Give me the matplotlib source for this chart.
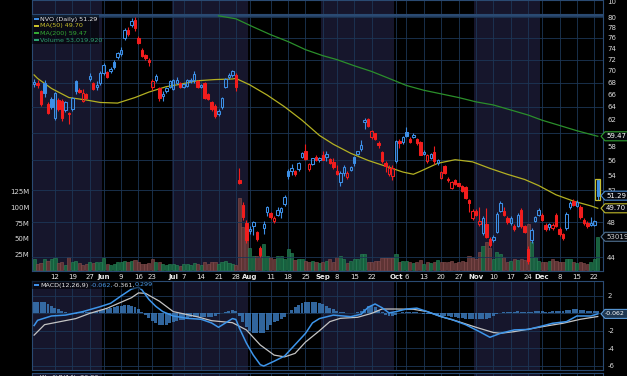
import numpy as np
import pandas as pd
import matplotlib
matplotlib.use('Agg')
import matplotlib.pyplot as plt
from matplotlib.ticker import FixedLocator, NullLocator, FuncFormatter
from matplotlib.patches import Polygon, Rectangle

# trading days shown on the chart (US market holidays left out)
holidays = ['2025-05-26', '2025-06-19', '2025-07-04', '2025-09-01', '2025-11-27']
days = pd.bdate_range('2025-05-02', '2025-12-23', freq='C', holidays=holidays)

opens = [67.7, 67.9, 66.5, 68.0, 64.4, 65.3, 62.2, 65.1, 64.9, 63.5, 63.0, 63.7, 68.2, 66.7, 64.9, 66.0, 68.6, 67.9, 67.2, 68.0,
         69.6, 69.8, 69.9, 71.6, 72.4, 73.0, 76.0, 77.5, 78.5, 79.5, 76.0, 73.8, 72.9, 71.9, 67.2, 68.4, 67.0, 65.8, 66.6, 67.3,
         66.9, 67.9, 67.9, 67.3, 67.4, 68.3, 68.4, 68.3, 67.3, 67.9, 66.1, 64.8, 64.2, 62.9, 63.9, 67.2, 68.9, 69.3, 69.3, 53.3, 50.1, 47.9,
         47.0, 47.6, 46.8, 45.0, 47.3, 49.3, 49.1, 48.1, 48.9, 49.2, 50.2, 54.6, 54.5, 54.5, 54.8, 56.5, 57.4, 54.8, 55.5, 56.5, 56.0,
         56.7, 56.5, 56.2, 55.8, 54.5, 53.1, 54.3, 53.7, 54.7, 56.5, 56.9, 57.6, 61.6, 62.1, 59.3, 59.9, 58.5, 57.2, 55.6, 54.2, 53.9,
         55.9, 58.8, 58.6, 60.1, 59.1, 59.4, 59.0, 58.6, 56.9, 55.9, 56.4, 57.2, 55.6, 53.6, 55.2, 53.5, 52.3, 53.3, 52.9, 52.5, 52.4, 50.7, 48.5,
         49.4, 47.8, 46.7, 47.8, 46.0, 45.9, 46.9, 49.4, 49.4, 48.5, 47.9, 47.6, 47.6, 49.5, 47.5, 44.9, 45.9, 48.2, 48.9,
         48.9, 47.7, 47.4, 47.3, 48.9, 47.2, 46.6, 47.3, 49.8, 50.6, 50.0, 49.8, 48.3, 47.9, 47.7, 47.7, 53.3]
highs = [68.6, 68.4, 66.8, 68.4, 64.7, 65.6, 66.4, 65.4, 65.2, 65.0, 63.2, 65.6, 68.5, 67.0, 66.9, 66.2, 69.6, 68.1, 68.2, 69.9,
         71.4, 70.0, 70.6, 71.9, 73.3, 74.2, 77.8, 78.0, 79.8, 80.0, 76.4, 74.1, 73.0, 72.3, 68.6, 69.5, 67.3, 66.5, 67.3, 68.4,
         68.6, 68.9, 68.1, 68.0, 68.6, 68.8, 70.0, 68.5, 67.8, 68.1, 66.3, 65.0, 64.4, 63.6, 65.6, 68.8, 69.6, 70.1, 69.6, 55.0, 50.5, 48.3,
         47.5, 48.2, 47.0, 45.2, 48.2, 50.0, 49.3, 48.7, 49.8, 49.9, 51.4, 54.8, 55.5, 54.7, 55.8, 57.2, 58.3, 55.6, 56.4, 56.7, 56.5,
         57.3, 57.3, 56.4, 56.3, 55.3, 54.6, 55.3, 54.5, 55.2, 56.6, 57.4, 58.9, 62.2, 62.2, 60.4, 60.0, 58.8, 57.3, 55.9, 55.3, 55.4,
         58.9, 59.0, 59.5, 60.9, 59.3, 59.9, 59.2, 58.8, 57.5, 56.9, 57.0, 58.0, 56.2, 54.5, 55.4, 53.7, 53.2, 53.4, 53.0, 52.7, 52.5, 50.9, 49.6,
         49.6, 49.9, 48.7, 49.7, 46.3, 46.5, 49.2, 50.6, 49.8, 48.7, 48.7, 47.8, 49.1, 49.7, 47.7, 45.2, 47.3, 48.8, 49.7,
         49.1, 47.9, 47.9, 47.9, 49.1, 47.4, 46.7, 49.2, 50.6, 50.9, 50.7, 50.1, 48.5, 48.1, 48.6, 48.3, 53.4]
lows = [67.2, 67.0, 64.2, 65.6, 62.8, 63.6, 62.0, 63.3, 61.8, 63.2, 61.3, 63.4, 66.0, 66.2, 64.7, 65.3, 68.3, 66.7, 66.8, 67.5,
        69.3, 68.8, 69.6, 70.4, 72.1, 72.6, 75.6, 76.3, 78.1, 77.3, 74.9, 72.5, 72.0, 70.8, 66.8, 68.1, 65.0, 65.0, 66.3, 67.0,
        66.7, 67.7, 67.0, 67.0, 67.2, 68.0, 68.0, 67.1, 67.0, 65.3, 65.1, 63.4, 62.3, 62.5, 63.7, 67.0, 68.6, 69.0, 66.6, 52.8, 48.3, 45.6,
        46.6, 46.5, 45.8, 44.0, 46.6, 48.8, 48.4, 47.9, 48.7, 48.5, 50.0, 53.5, 54.0, 53.9, 54.6, 56.3, 56.0, 54.5, 55.3, 55.9, 55.8,
        56.0, 55.9, 55.5, 54.8, 54.0, 52.5, 53.9, 53.5, 54.5, 55.2, 56.7, 57.4, 60.5, 60.9, 59.1, 58.9, 57.7, 55.7, 54.4, 53.9, 53.3,
        55.7, 57.8, 58.4, 59.3, 58.5, 59.2, 58.2, 56.7, 56.7, 55.7, 56.2, 55.5, 55.4, 53.4, 54.1, 53.1, 52.1, 52.7, 52.4, 51.8, 50.9, 49.3, 48.3,
        48.8, 47.6, 46.5, 46.1, 45.1, 45.7, 46.7, 49.2, 48.8, 47.8, 47.7, 47.0, 47.4, 47.3, 46.7, 43.3, 45.6, 48.0, 48.7,
        48.1, 47.0, 47.1, 47.1, 47.4, 46.4, 45.9, 47.1, 49.6, 50.0, 49.8, 48.4, 47.7, 47.3, 47.6, 47.5, 50.8]
closes = [68.1, 67.5, 64.5, 66.2, 63.1, 63.9, 66.2, 63.7, 62.2, 64.8, 62.8, 65.4, 66.5, 66.4, 66.2, 65.5, 69.1, 66.9, 67.5, 69.6,
          71.0, 69.0, 70.3, 70.7, 73.1, 73.8, 77.5, 76.8, 79.3, 77.8, 75.1, 72.6, 72.2, 71.6, 68.2, 69.1, 65.5, 66.1, 67.0, 68.2,
          68.4, 68.5, 67.2, 67.8, 68.4, 68.5, 69.5, 67.3, 67.5, 65.5, 65.3, 63.7, 62.6, 63.3, 65.4, 68.6, 69.3, 69.9, 67.2, 53.0, 48.6, 45.9,
          47.2, 48.0, 46.0, 44.2, 47.8, 49.8, 48.6, 48.5, 49.5, 49.7, 51.1, 53.8, 54.9, 54.2, 55.6, 57.0, 56.2, 55.5, 56.3, 56.0, 56.3,
          56.1, 56.9, 55.6, 55.1, 54.2, 54.3, 55.1, 54.3, 55.1, 55.6, 57.3, 58.2, 61.9, 61.0, 60.2, 59.0, 58.2, 55.9, 55.2, 55.0, 54.9,
          58.8, 58.5, 59.3, 59.5, 58.6, 59.7, 58.5, 56.8, 57.2, 56.8, 56.9, 55.9, 56.0, 54.4, 54.3, 53.3, 53.1, 52.8, 52.6, 51.9, 51.0, 50.4, 49.4,
          48.9, 48.2, 48.5, 46.3, 45.4, 46.3, 49.0, 50.3, 48.9, 48.0, 48.5, 47.2, 48.9, 47.5, 46.9, 43.6, 47.1, 48.6, 49.5,
          48.3, 47.2, 47.8, 47.7, 47.6, 46.6, 46.2, 49.0, 50.4, 50.1, 50.5, 48.6, 47.9, 47.5, 47.9, 48.1, 51.29]
# volume, millions of shares
volume = [17, 10, 11, 17, 15, 17, 19, 11, 12, 8, 20, 12, 15, 11, 8, 9, 12, 11, 13, 13,
          19, 9, 8, 10, 12, 13, 15, 12, 14, 16, 12, 10, 9, 11, 18, 12, 13, 9, 8, 10,
          9, 8, 6, 9, 10, 8, 11, 9, 8, 12, 10, 12, 13, 10, 12, 15, 11, 9, 8, 115, 69, 55,
          35, 22, 23, 22, 42, 23, 20, 17, 22, 22, 18, 34, 27, 16, 17, 18, 15, 12, 15, 13, 11,
          13, 15, 17, 13, 21, 22, 17, 11, 15, 17, 17, 25, 25, 13, 12, 15, 15, 19, 19, 19, 19,
          25, 13, 15, 14, 12, 11, 13, 16, 9, 13, 11, 12, 16, 12, 13, 12, 14, 11, 13, 14, 13, 22, 21,
          18, 29, 38, 44, 35, 18, 28, 25, 20, 13, 14, 18, 16, 17, 16, 74, 44, 20, 14,
          12, 12, 15, 18, 14, 13, 12, 17, 18, 12, 11, 13, 11, 9, 12, 17, 53]
macd_hist = [1.3, 1.35, 1.3, 1.25, 1.1, 0.9, 0.6, 0.45, 0.3, 0.15, 0.05, 0.0, -0.05, 0.1, 0.15, 0.2, 0.2, 0.2, 0.3, 0.35,
             0.5, 0.55, 0.65, 0.75, 0.8, 0.9, 1.0, 1.0, 0.85, 0.7, 0.45, 0.15, -0.2, -0.5, -0.85, -1.1, -1.3, -1.35, -1.3, -1.15,
             -0.95, -0.85, -0.8, -0.75, -0.6, -0.45, -0.4, -0.4, -0.38, -0.38, -0.4, -0.4, -0.3, -0.1, 0.05, 0.2, 0.3, 0.35, 0.3, -0.3, -1.0, -1.6,
             -2.0, -2.2, -2.3, -2.3, -2.2, -1.9, -1.3, -1.0, -0.85, -0.7, -0.4, 0.0, 0.35, 0.7, 1.0, 1.2, 1.3, 1.35, 1.35, 1.3, 1.2,
             1.05, 0.85, 0.65, 0.5, 0.3, 0.2, 0.1, 0.05, 0.05, 0.05, 0.15, 0.3, 0.55, 0.8, 0.9, 0.75, 0.4, 0.1, -0.2, -0.3, -0.3,
             -0.15, 0.05, 0.15, 0.2, 0.2, 0.15, 0.1, 0.0, -0.05, -0.05, -0.05, -0.1, -0.15, -0.25, -0.3, -0.35, -0.4, -0.45, -0.5, -0.55, -0.6, -0.65, -0.7,
             -0.7, -0.7, -0.65, -0.6, -0.55, -0.35, -0.1, 0.05, 0.15, 0.2, 0.2, 0.2, 0.25, 0.2, 0.2, 0.1, 0.2, 0.25, 0.25,
             0.25, 0.2, 0.2, 0.25, 0.25, 0.25, 0.25, 0.35, 0.4, 0.45, 0.45, 0.4, 0.35, 0.3, 0.3, 0.3, 0.3]

ma50_dates = ['2025-05-02', '2025-05-05', '2025-05-09', '2025-05-16', '2025-05-23', '2025-05-30', '2025-06-06',
              '2025-06-13', '2025-06-20', '2025-06-27', '2025-07-03', '2025-07-11', '2025-07-18', '2025-07-25',
              '2025-07-28', '2025-08-01', '2025-08-08', '2025-08-15', '2025-08-22', '2025-08-29', '2025-09-05',
              '2025-09-12', '2025-09-19', '2025-09-26', '2025-10-03', '2025-10-08', '2025-10-10', '2025-10-17',
              '2025-10-24', '2025-10-31', '2025-11-07', '2025-11-14', '2025-11-21', '2025-11-28', '2025-12-05',
              '2025-12-12', '2025-12-19', '2025-12-23']
ma50 = [69.3, 68.7, 67.0, 65.5, 65.1, 64.7, 64.6, 65.5, 66.4, 67.3, 67.7, 68.3, 68.5, 68.6, 68.7, 67.6, 65.9,
        64.0, 61.9, 59.6, 58.3, 57.0, 56.0, 55.2, 54.4, 54.1, 54.5, 55.6, 56.1, 55.8, 54.9, 54.1, 53.4, 52.6,
        51.4, 50.6, 50.0, 49.70]
ma200_dates = ['2025-07-21', '2025-07-28', '2025-08-04', '2025-08-11', '2025-08-18', '2025-08-25', '2025-09-02',
               '2025-09-08', '2025-09-15', '2025-09-22', '2025-09-29', '2025-10-06', '2025-10-13', '2025-10-20',
               '2025-10-27', '2025-11-03', '2025-11-10', '2025-11-17', '2025-11-24', '2025-12-01', '2025-12-08',
               '2025-12-15', '2025-12-23']
ma200 = [80.3, 79.7, 78.1, 76.6, 75.3, 73.8, 72.7, 72.0, 70.9, 69.9, 68.7, 67.5, 66.7, 66.1, 65.5, 64.8, 64.3,
         63.5, 62.7, 61.9, 61.1, 60.3, 59.47]

# MACD(12,26,9) lines
macd_dates = ['2025-05-02', '2025-05-05', '2025-05-09', '2025-05-15', '2025-05-22', '2025-05-30', '2025-06-04',
              '2025-06-09', '2025-06-12', '2025-06-16', '2025-06-17', '2025-06-20', '2025-06-24', '2025-06-26',
              '2025-07-01', '2025-07-08', '2025-07-14', '2025-07-17', '2025-07-21', '2025-07-23', '2025-07-25',
              '2025-07-28', '2025-07-29', '2025-07-31', '2025-08-04', '2025-08-06', '2025-08-07', '2025-08-12',
              '2025-08-15', '2025-08-20', '2025-08-25', '2025-08-27', '2025-08-29', '2025-09-05', '2025-09-12',
              '2025-09-17', '2025-09-19', '2025-09-23', '2025-09-25', '2025-09-29', '2025-10-01', '2025-10-06',
              '2025-10-09', '2025-10-14', '2025-10-20', '2025-10-23', '2025-10-29', '2025-11-04', '2025-11-07',
              '2025-11-12', '2025-11-18', '2025-11-24', '2025-12-01', '2025-12-04', '2025-12-10', '2025-12-15',
              '2025-12-19', '2025-12-23']
macd = [-1.4, -0.8, -0.3, -0.2, 0.2, 0.77, 1.16, 2.0, 2.8, 3.0, 2.7, 1.6, 0.8, 0.2, -0.3, -0.57, -0.68, -1.1,
        -1.6, -1.1, -0.6, -0.7, -1.7, -3.4, -4.8, -5.9, -6.05, -5.5, -4.9, -3.6, -2.3, -1.1, -0.6, -0.2, -0.38,
        -0.1, 0.7, 1.08, 0.65, 0.05, 0.2, 0.5, 0.6, 0.2, -0.38, -0.7, -1.3, -2.1, -2.75, -2.3, -1.9, -1.85,
        -1.45, -1.14, -0.95, -0.3, -0.3, -0.062]
signal_dates = ['2025-05-02', '2025-05-07', '2025-05-20', '2025-05-27', '2025-06-03', '2025-06-12', '2025-06-16',
                '2025-06-18', '2025-06-25', '2025-07-01', '2025-07-11', '2025-07-17', '2025-07-25', '2025-07-31',
                '2025-08-06', '2025-08-12', '2025-08-15', '2025-08-20', '2025-08-25', '2025-08-29', '2025-09-04',
                '2025-09-09', '2025-09-16', '2025-09-22', '2025-09-25', '2025-10-01', '2025-10-08', '2025-10-14',
                '2025-10-20', '2025-10-27', '2025-11-03', '2025-11-10', '2025-11-12', '2025-11-18', '2025-11-25',
                '2025-12-03', '2025-12-09', '2025-12-16', '2025-12-23']
signal = [-2.5, -1.3, -0.6, 0.0, 0.59, 1.8, 2.35, 2.3, 1.4, 0.2, -0.4, -0.84, -1.07, -1.9, -3.63, -4.8, -5.0,
          -4.6, -3.3, -2.0, -0.95, -0.57, -0.45, 0.0, 0.5, 0.5, 0.47, 0.2, -0.38, -0.95, -1.6, -2.2, -2.29,
          -2.1, -1.75, -1.4, -1.14, -0.68, -0.361]

tick_dates = ['2025-05-12', '2025-05-19', '2025-05-27', '2025-06-02', '2025-06-09', '2025-06-16', '2025-06-23',
              '2025-07-01', '2025-07-07', '2025-07-14', '2025-07-21', '2025-07-28', '2025-08-01', '2025-08-11',
              '2025-08-18', '2025-08-25', '2025-09-02', '2025-09-08', '2025-09-15', '2025-09-22', '2025-10-01',
              '2025-10-06', '2025-10-13', '2025-10-20', '2025-10-27', '2025-11-03', '2025-11-10', '2025-11-17',
              '2025-11-24', '2025-12-01', '2025-12-08', '2025-12-15', '2025-12-22']
tick_labels = ['12', '19', '27', 'Jun', '9', '16', '23', 'Jul', '7', '14', '21', '28', 'Aug', '11', '18', '25',
               'Sep', '8', '15', '22', 'Oct', '6', '13', '20', '27', 'Nov', '10', '17', '24', 'Dec', '8', '15', '22']

n = len(days)
assert all(len(s) == n for s in (opens, highs, lows, closes, volume, macd_hist))


def pos(ds):
    return days.get_indexer(pd.to_datetime(ds))


x = np.arange(n)
up = np.r_[True, np.diff(closes) >= 0]

BG = '#000000'
SHADE = '#16162c'
GRID = '#1c3656'
SPINE = '#2a4a72'
TXT = '#d8d8d8'
BLUE = '#3d8fe6'
RED = '#f21d1d'
FS = 5.0

W_PX, H_PX = 627, 376
fig = plt.figure(figsize=(W_PX / 100, H_PX / 100), dpi=100, facecolor=BG)


def box(top, bottom):
    return [32 / W_PX, 1 - bottom / H_PX, 571 / W_PX, (bottom - top) / H_PX]


ax_top = fig.add_axes(box(0, 14))
ax_vol = fig.add_axes(box(15, 271))
ax = fig.add_axes(box(15, 271), sharex=ax_vol)
ax_macd = fig.add_axes(box(281, 370), sharex=ax_vol)
ax_w = fig.add_axes(box(373, 390), sharex=ax_vol)

ticks = pos(tick_dates)
months = days.month
for a in (ax_top, ax_vol, ax_macd, ax_w):
    a.set_facecolor(BG)
    for m in (5, 7, 9, 11):
        idx = np.where(months == m)[0]
        a.axvspan(idx[0] - 0.5, idx[-1] + 0.5, color=SHADE, zorder=0, lw=0)
    for t in ticks:
        a.axvline(t, color=GRID, lw=0.6, zorder=0.5)
    for s in a.spines.values():
        s.set_color(SPINE)
        s.set_linewidth(0.8)
    a.tick_params(length=0, labelsize=FS, colors=TXT, pad=2)
ax.set_facecolor('none')
for s in ax.spines.values():
    s.set_visible(False)

ax_vol.set_xlim(-0.6, n + 0.5)
ax_top.set_xlim(-0.6, n + 0.5)
ax_top.set_xticks([])
ax_top.set_yticks([])
ax_w.set_yticks([])
ax_w.tick_params(labelbottom=False)

# volume layer (left axis)
vol_col = np.where(up, '#17603f', '#5e3434')
vol_edge = np.where(up, '#2a8a5a', '#8a5050')
ax_vol.bar(x, volume, width=0.9, color=vol_col, edgecolor=vol_edge, lw=0.4, zorder=2)
ax_vol.set_ylim(-1.6, 407)
ax_vol.yaxis.set_major_locator(FixedLocator([25, 50, 75, 100, 125]))
ax_vol.yaxis.set_major_formatter(FuncFormatter(lambda v, p: f'{v:.0f}M'))
ax_vol.set_xticks(ticks)
ax_vol.set_xticklabels(tick_labels)
for lab in ax_vol.get_xticklabels():
    if lab.get_text().isalpha():
        lab.set_fontweight('bold')
    lab.set_color('#e8e8e8')

# price layer (log scale, right axis); labels under the value tags are hidden as on the reference
ax.set_yscale('log')
ax.set_ylim(42.51, 80.46)
ax.yaxis.set_major_locator(FixedLocator([v for v in range(44, 81, 2) if v not in (46, 50, 60)]))
ax.yaxis.set_minor_locator(NullLocator())
ax.yaxis.set_major_formatter(FuncFormatter(lambda v, p: f'{v:.0f}'))
ax.yaxis.tick_right()
ax.tick_params(axis='y', length=0, labelsize=FS, colors=TXT, pad=3)
ax.tick_params(axis='x', labelbottom=False, length=0)
for lev in np.arange(44, 81, 4):
    ax.axhline(lev, color=GRID, lw=0.6, zorder=0.5)
ax.axhline(80.3, color=SPINE, lw=0.6, zorder=0.5)

for i in range(n):
    o, h, l, c = opens[i], highs[i], lows[i], closes[i]
    col = BLUE if up[i] else RED
    top, bot = max(o, c), min(o, c)
    ax.vlines(i, top, h, color=col, lw=0.8, zorder=3)
    ax.vlines(i, l, bot, color=col, lw=0.8, zorder=3)
    face = 'none' if c > o else col
    ax.bar(i, max(top - bot, 0.05), bottom=bot, width=0.7, facecolor=face, edgecolor=col, lw=0.75, zorder=3)
# latest session highlighted
ax.bar(n - 1, highs[-1] - lows[-1], bottom=lows[-1], width=1.5, facecolor='none', edgecolor='#c8c030', lw=0.9, zorder=4)

ax.plot(pos(ma50_dates), ma50, color='#b3b022', lw=0.9, zorder=2.5)
ax.plot(pos(ma200_dates), ma200, color='#2b8f2b', lw=0.9, zorder=2.5)

# MACD panel
ax_macd.bar(x, macd_hist, width=0.85, color='#3a78b8', alpha=0.85, lw=0, zorder=2)
ax_macd.plot(pos(signal_dates), signal, color='#c4c4c4', lw=0.9, zorder=3)
ax_macd.plot(pos(macd_dates), macd, color='#3d95ea', lw=1.1, zorder=3)
ax_macd.set_ylim(-6.51, 3.72)
ax_macd.yaxis.set_major_locator(FixedLocator([2, -2, -4, -6]))
ax_macd.yaxis.set_major_formatter(FuncFormatter(lambda v, p: f'{v:.0f}'))
ax_macd.yaxis.tick_right()
ax_macd.tick_params(labelbottom=False, pad=3)
for lev in (2, 0, -2, -4, -6):
    ax_macd.axhline(lev, color=GRID, lw=0.6, zorder=0.5)


def fx(px):
    return px / W_PX


def fyy(py):
    return 1 - py / H_PX


# value tags on the right edge
def tag(a, val, text, ec, fc='#05070c', tc='#ffffff', fs=FS, x0=606):
    yd = a.transData.transform((0, val))[1]
    yc = H_PX - yd
    pts = [(601, yc), (605, yc - 4.5), (629, yc - 4.5), (629, yc + 4.5), (605, yc + 4.5)]
    fig.add_artist(Polygon([(fx(px), fyy(py)) for px, py in pts], closed=True, transform=fig.transFigure,
                           facecolor=fc, edgecolor=ec, lw=0.8, zorder=10))
    fig.text(fx(x0), fyy(yc), text, color=tc, fontsize=fs, va='center', ha='left', zorder=11)


fig.canvas.draw()
tag(ax, 59.47, '59.47', '#2f9e2f')
tag(ax, 51.29, '51.29', '#4a8fd8')
tag(ax, 49.70, '49.70', '#c2bb2a')
tag(ax_vol, 53.02, '53019920', '#4f7090', tc='#d0d0d0')
tag(ax_macd, -0.062, '-0.062', '#5a9ad8', fc='#1d3650', fs=4.5, x0=604.5)
fig.text(fx(607), fyy(1.5), '10', color=TXT, fontsize=FS, va='center')

# legend of the price panel
fig.add_artist(Rectangle((fx(32), fyy(44)), fx(67), 29 / H_PX, transform=fig.transFigure,
                         facecolor='#000000', alpha=0.55, lw=0, zorder=8))
legend = [('NVO (Daily) 51.29', '#e8e8e8', BLUE), ('MA(50) 49.70', '#c8c02a', '#c8c02a'),
          ('MA(200) 59.47', '#34a834', '#34a834'), ('Volume 53,019,920', '#2ea070', '#2ea070')]
for k, (txt, tc, ic) in enumerate(legend):
    yc = 19 + 7 * k
    fig.add_artist(Rectangle((fx(34), fyy(yc + 1)), fx(5), 2 / H_PX, transform=fig.transFigure,
                             facecolor=ic, lw=0, zorder=9))
    fig.text(fx(40), fyy(yc), txt, color=tc, fontsize=4.6, va='center', ha='left', zorder=9)

# legend of the MACD panel
fig.add_artist(Rectangle((fx(32), fyy(289)), fx(121), 8 / H_PX, transform=fig.transFigure,
                         facecolor='#000000', alpha=0.55, lw=0, zorder=8))
fig.add_artist(Rectangle((fx(34), fyy(285.5)), fx(5), 1.5 / H_PX, transform=fig.transFigure,
                         facecolor=BLUE, lw=0, zorder=9))
for px, txt, tc in [(40.5, 'MACD(12,26,9)', '#e8e8e8'), (91, '-0.062,', '#4a9ae8'),
                    (113, '-0.361,', '#e0e0e0'), (135, '0.299', '#4a9ae8')]:
    fig.text(fx(px), fyy(285), txt, color=tc, fontsize=4.6, va='center', ha='left', zorder=9)
fig.text(fx(40.5), fyy(377), 'Wm%R(14) -26.03', color='#e0e0e0', fontsize=4.6, va='center', ha='left')
fig.add_artist(Rectangle((fx(34), fyy(377.5)), fx(5), 1.5 / H_PX, transform=fig.transFigure,
                         facecolor=BLUE, lw=0, zorder=9))

fig.savefig('out.png', dpi=100, facecolor=BG)
